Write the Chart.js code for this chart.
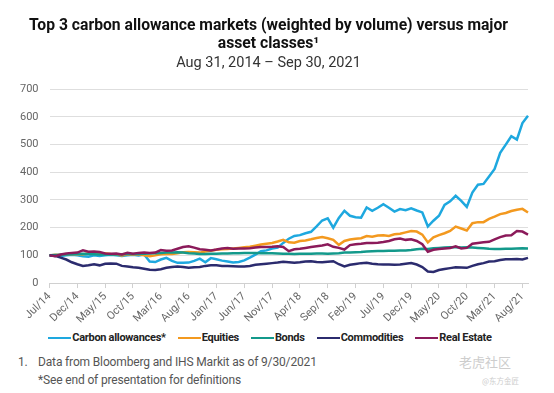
<!DOCTYPE html>
<html>
<head>
<meta charset="utf-8">
<script src="https://cdn.jsdelivr.net/npm/chart.js@4"></script>
<style>
  body { margin: 0; background: #fff; }
  #wrap { position: relative; width: 554px; height: 393px; overflow: hidden; }
  #chartBox { position: absolute; left: 0; top: 0; width: 554px; height: 328px; }
  #legend { position: absolute; left: 0; top: 331px; width: 540px; display: flex; justify-content: center;
    font-family: Roboto, sans-serif; font-weight: bold; font-size: 11px; letter-spacing: -0.3px; color: #222; }
  #legend .item { display: flex; align-items: center; margin: 0 6px; }
  #legend .line { width: 23px; height: 2px; margin-right: 1px; }
  .note { position: absolute; font-family: Roboto, sans-serif; font-size: 12px; letter-spacing: -0.15px; color: #555; }
  .wm { position: absolute; font-family: "Noto Sans CJK SC", sans-serif; color: #cdcdcd; }
</style>
</head>
<body>
<div id="wrap">
  <div id="chartBox"><canvas id="carbonChart"></canvas></div>
  <div id="legend"></div>
  <div class="note" style="left:18px; top:355px;">1.</div>
  <div class="note" style="left:38px; top:355px;">Data from Bloomberg and IHS Markit as of 9/30/2021</div>
  <div class="note" style="left:38px; top:373px;">*See end of presentation for definitions</div>
  <div class="wm" style="left:459px; top:352px; font-size:13px;">老虎社区</div>
  <div class="wm" style="left:482px; top:375px; font-size:7.5px;">@东方金匠</div>
</div>
<script>
document.addEventListener('DOMContentLoaded', function () {
    // monthly points, Jul/14 .. Sep/21
    const monthNames = ['Jan', 'Feb', 'Mar', 'Apr', 'May', 'Jun', 'Jul', 'Aug', 'Sep', 'Oct', 'Nov', 'Dec'];
    const months = [];
    for (let y = 2014; y <= 2021; y++) {
        for (let m = 0; m < 12; m++) {
            if ((y === 2014 && m < 6) || (y === 2021 && m > 8)) continue;
            months.push(monthNames[m] + '/' + String(y).slice(2));
        }
    }
    const tickLabels = ['Jul/14', 'Dec/14', 'May/15', 'Oct/15', 'Mar/16', 'Aug/16', 'Jan/17', 'Jun/17', 'Nov/17',
        'Apr/18', 'Sep/18', 'Feb/19', 'Jul/19', 'Dec/19', 'May/20', 'Oct/20', 'Mar/21', 'Aug/21'];

    const carbon = [100, 100, 98, 100, 102, 100, 97, 95, 100, 98, 100, 102, 100, 98, 100, 102, 100, 103, 78, 76,
        85, 91, 80, 73, 73, 74, 80, 88, 75, 90, 86, 81, 78, 74, 76, 82, 92, 103, 115, 118,
        125, 128, 145, 160, 170, 173, 180, 185, 205, 226, 234, 200, 235, 261, 243, 238, 236, 273, 261, 272,
        285, 272, 258, 267, 263, 270, 262, 255, 204, 225, 243, 282, 295, 315, 297, 275, 327, 355, 358, 385,
        412, 470, 500, 530, 518, 578, 604];
    const equities = [100, 102, 101, 104, 104, 105, 103, 108, 106, 108, 108, 105, 103, 100, 104, 103, 104, 100, 97, 100,
        104, 105, 105, 108, 111, 112, 111, 110, 114, 117, 120, 122, 123, 125, 127, 129, 131, 135, 139, 142,
        145, 150, 156, 147, 146, 152, 154, 158, 163, 166, 162, 156, 138, 152, 157, 160, 162, 170, 167, 172,
        173, 170, 176, 178, 183, 188, 186, 175, 147, 165, 173, 180, 188, 204, 197, 190, 216, 220, 220, 232,
        240, 249, 253, 260, 265, 268, 255];
    const bonds = [100, 101, 102, 103, 104, 105, 106, 105, 104, 103, 103, 104, 103, 104, 105, 105, 105, 106, 107, 108,
        109, 110, 110, 111, 110, 108, 107, 105, 105, 106, 106, 107, 107, 108, 108, 109, 109, 109, 108, 108,
        108, 107, 106, 106, 105, 106, 106, 106, 107, 107, 106, 107, 108, 110, 110, 111, 112, 114, 115, 116,
        116, 117, 117, 118, 118, 119, 122, 124, 123, 126, 127, 128, 129, 129, 128, 129, 128, 127, 126, 124,
        123, 123, 124, 124, 125, 126, 125];
    const commodities = [100, 98, 92, 85, 75, 68, 62, 64, 68, 64, 70, 71, 70, 62, 60, 57, 55, 52, 48, 47,
        50, 55, 58, 60, 58, 55, 57, 58, 62, 64, 64, 62, 62, 61, 60, 60, 62, 66, 68, 70,
        72, 74, 77, 75, 73, 75, 78, 79, 76, 75, 77, 79, 68, 60, 66, 69, 72, 73, 70, 68,
        67, 67, 66, 67, 70, 72, 67, 58, 42, 40, 47, 51, 54, 57, 56, 55, 62, 68, 72, 78,
        79, 83, 86, 86, 87, 85, 91];
    const realEstate = [100, 97, 103, 107, 109, 110, 118, 113, 114, 112, 107, 106, 107, 103, 109, 106, 109, 110, 109, 110,
        119, 117, 118, 124, 130, 133, 128, 122, 120, 118, 121, 125, 127, 124, 125, 125, 126, 128, 130, 130,
        131, 133, 130, 115, 122, 124, 127, 130, 133, 136, 140, 131, 127, 121, 137, 140, 142, 145, 145, 146,
        148, 152, 158, 161, 156, 158, 152, 140, 113, 120, 123, 125, 127, 133, 125, 127, 142, 145, 147, 149,
        158, 166, 172, 173, 188, 186, 175];

    const axisFont = { family: 'Roboto, sans-serif', size: 11 };

    const ctx = document.getElementById('carbonChart').getContext('2d');
    const chart = new Chart(ctx, {
        type: 'line',
        data: {
            labels: months,
            datasets: [
                { label: 'Carbon allowances*', data: carbon, borderColor: '#1ea8df' },
                { label: 'Equities', data: equities, borderColor: '#f3991f' },
                { label: 'Bonds', data: bonds, borderColor: '#13998b' },
                { label: 'Commodities', data: commodities, borderColor: '#2b2b6e' },
                { label: 'Real Estate', data: realEstate, borderColor: '#8b1a5a' }
            ].reverse()
        },
        options: {
            responsive: true,
            maintainAspectRatio: false,
            animation: false,
            elements: {
                line: { borderWidth: 2.5, tension: 0 },
                point: { radius: 0 }
            },
            layout: { padding: { left: 9, right: 26, top: 0, bottom: 0 } },
            plugins: {
                legend: { display: false },
                tooltip: { enabled: false },
                title: {
                    display: true,
                    text: ['Top 3 carbon allowance markets (weighted by volume) versus major', 'asset classes\u00b9'],
                    color: '#111',
                    font: { family: 'Roboto, sans-serif', size: 15.7, weight: 'bold', lineHeight: 1.14 },
                    padding: { top: 17, bottom: 0 }
                },
                subtitle: {
                    display: true,
                    text: 'Aug 31, 2014 \u2013 Sep 30, 2021',
                    color: '#333',
                    font: { family: 'Roboto, sans-serif', size: 14.5 },
                    padding: { top: 2, bottom: 17 }
                }
            },
            scales: {
                x: {
                    grid: { drawOnChartArea: false, drawTicks: true, tickLength: 5, color: '#d0d0d0' },
                    border: { color: '#d0d0d0' },
                    ticks: {
                        autoSkip: false,
                        maxRotation: 45,
                        minRotation: 45,
                        color: '#666',
                        font: axisFont,
                        padding: 2,
                        callback: function (val, i) {
                            const lab = months[i];
                            return tickLabels.includes(lab) ? lab : null;
                        }
                    }
                },
                y: {
                    min: 0,
                    max: 700,
                    grid: { color: '#dedede', drawTicks: false },
                    border: { display: false },
                    ticks: { stepSize: 100, color: '#666', font: axisFont, padding: 11 }
                }
            }
        }
    });

    // legend in the page, from the chart's own legend items
    const items = chart.options.plugins.legend.labels.generateLabels(chart).reverse();
    const legend = document.getElementById('legend');
    items.forEach(function (it) {
        const el = document.createElement('div');
        el.className = 'item';
        el.innerHTML = '<span class="line" style="background:' + it.strokeStyle + '"></span><span>' + it.text + '</span>';
        legend.appendChild(el);
    });
});
</script>
</body>
</html>
